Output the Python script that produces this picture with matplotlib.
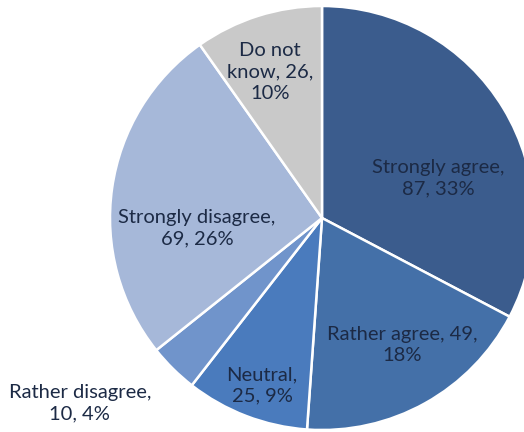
import matplotlib
matplotlib.use("Agg")
import matplotlib.pyplot as plt

categories = ["Strongly agree", "Rather agree", "Neutral",
              "Rather disagree", "Strongly disagree", "Do not know"]
counts = [87, 49, 25, 10, 69, 26]
percents = [33, 18, 9, 4, 26, 10]

colors = ["#3b5c8d", "#4470a8", "#4a7bbd", "#7094cb", "#a6b8d9", "#c9c9c9"]

# label text lines and spots (pie radius = 1, centre at origin)
label_text = [
    "Strongly agree,\n87, 33%",
    "Rather agree, 49,\n18%",
    "Neutral,\n25, 9%",
    "Rather disagree,\n10, 4%",
    "Strongly disagree,\n69, 26%",
    "Do not\nknow, 26,\n10%",
]
label_xy = [(0.547, 0.189), (0.377, -0.599), (-0.283, -0.788),
            (-1.142, -0.873), (-0.590, -0.047), (-0.245, 0.689)]

W, H = 524, 432
cx, cy, r = 322, 218, 212

fig = plt.figure(figsize=(W / 100, H / 100), dpi=100)
ax = fig.add_axes([0, 0, 1, 1])
ax.pie(counts, colors=colors, startangle=90, counterclock=False, radius=1,
       wedgeprops=dict(edgecolor="white", linewidth=1.8))
ax.set_xlim(-cx / r, (W - cx) / r)
ax.set_ylim(-(H - cy) / r, cy / r)
ax.set_aspect("equal")
ax.axis("off")

for txt, (x, y) in zip(label_text, label_xy):
    ax.text(x, y, txt, ha="center", va="center", fontsize=14.5,
            family="Lato", color="#1c2a45", linespacing=1.3)

fig.savefig("out.png", dpi=100)
